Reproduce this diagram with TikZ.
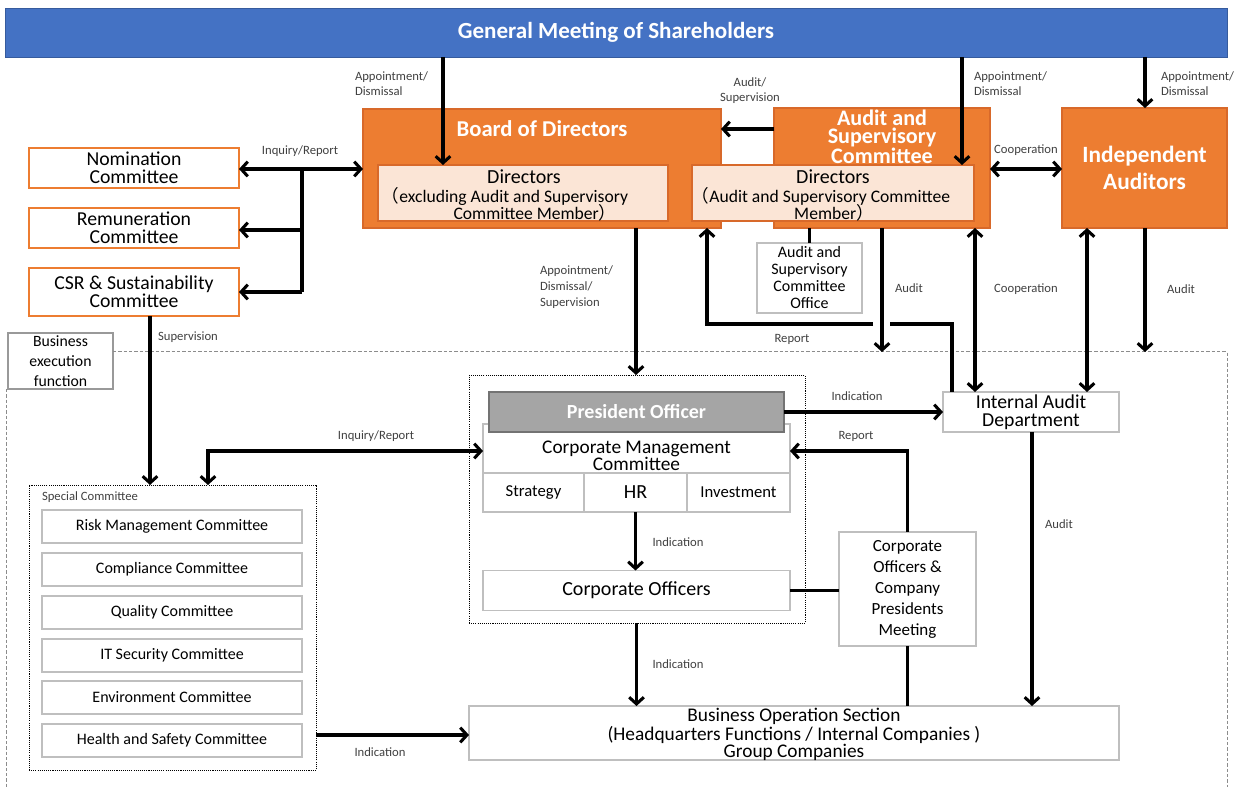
\documentclass[tikz,border=0pt]{standalone}
\usepackage{fontspec}
\setmainfont{Carlito}
\newfontfamily\cjk{Noto Sans CJK JP}
\usetikzlibrary{arrows.meta}
\definecolor{gmblue}{HTML}{4472C4}
\definecolor{orng}{HTML}{ED7D31}
\definecolor{orngdk}{HTML}{D8692A}
\definecolor{peach}{HTML}{FBE5D6}
\definecolor{gbord}{HTML}{BFBFBF}
\definecolor{pogray}{HTML}{A5A5A5}
\definecolor{lblgray}{HTML}{404040}
\newcommand\fs[2]{\fontsize{#1}{#2}\selectfont}
\tikzset{
  every node/.style={inner sep=0pt, outer sep=0pt},
  wh/.style 2 args={minimum width=#1*0.75pt, minimum height=#2*0.75pt},
  gbox/.style={draw=gbord, line width=1pt, fill=white, align=center},
  obox/.style={draw=orng, line width=1pt, fill=white, align=center, font=\fs{14.8}{13.4}},
  orbox/.style={fill=orng, draw=orngdk, line width=0.8pt},
  pbox/.style={fill=peach, draw=orngdk, line width=0.8pt, align=center},
  wtitle/.style={text=white, font=\bfseries\fs{17}{13}, align=center},
  conn/.style={line width=2.3pt, draw=black, line join=miter},
  arr/.style={conn, -{Straight Barb[length=5pt,width=11pt]}},
  darr/.style={conn, {Straight Barb[length=5pt,width=11pt]}-{Straight Barb[length=5pt,width=11pt]}},
  lbl/.style={text=lblgray, font=\fs{9.5}{11.25}, align=left},
  subt/.style={font=\fs{13.2}{13}},
  dotbox/.style={draw=black, line width=0.7pt, dash pattern=on 0.8pt off 0.8pt},
  frame/.style={draw=black!45, line width=0.75pt, dash pattern=on 2.5pt off 1.5pt}
}
\begin{document}
\begin{tikzpicture}[x=0.75pt,y=-0.75pt]
\useasboundingbox (0,0) rectangle (1243,787);
% general meeting
\node[fill=gmblue, draw=gmblue!80!black, line width=0.6pt, wh={1222}{49}, text=white, font=\bfseries\fs{17.3}{17}] (gm) at (616,32.5) {General Meeting of Shareholders};
% business execution frame
\node[draw=black!40, line width=0.8pt, fill=white, wh={105}{56}, align=center, font=\fs{11.8}{15}] (bef) at (60.5,361) {Business\\execution\\function};
\coordinate (exTop) at (113,352);
\coordinate (exRight) at (1227,352);
\coordinate (exBotR) at (1227,787);
\coordinate (exL) at (6,389);
\coordinate (exBotL) at (6,787);
\draw[frame] (exTop) -- (exRight) -- (exBotR);
\draw[frame] (exL) -- (exBotL);
% top orange boxes
\node[orbox, wh={358}{119}] (board) at (542,168.5) {};
\node[orbox, wh={216}{120}] (asc) at (882,168) {};
\node[orbox, wh={165}{120}, text=white, font=\bfseries\fs{17.5}{20}, align=center] (ind) at (1144.5,168) {Independent\\Auditors};
\node[wtitle] (boardt) at (542,129) {Board of Directors};
\node[wtitle, font=\bfseries\fs{16.6}{13.4}] (asct) at (882,137) {Audit and\\Supervisory\\Committee};
\node[pbox, wh={290}{56}] (dirx) at (523,193) {};
\node[pbox, wh={282}{56}] (dira) at (833,193) {};
\node[font=\fs{15}{15}] (dirxt) at (524,176.5) {Directors};
\node[subt] (dirxs1) at (505,196.5) {{\cjk （}excluding Audit and Supervisory};
\node[subt] (dirxs2) at (535,213) {Committee Member{\cjk ）}};
\node[font=\fs{15}{15}] (dirat) at (833,176.5) {Directors};
\node[subt] (diras1) at (821,196.5) {{\cjk （}Audit and Supervisory Committee};
\node[subt] (diras2) at (834,213) {Member{\cjk ）}};
% left committees
\node[obox, wh={210}{40}] (nom) at (134,168) {Nomination\\Committee};
\node[obox, wh={210}{40}] (rem) at (134,228) {Remuneration\\Committee};
\node[obox, wh={210}{48}] (csr) at (134,292) {CSR \& Sustainability\\Committee};
% audit office
\node[gbox, wh={105}{70}, font=\fs{12}{12.75}] (off) at (809.5,278) {Audit and\\Supervisory\\Committee\\Office};
% special committee
\node[dotbox, wh={287}{285}] (spc) at (172.5,627.5) {};
\node[lbl, anchor=west, font=\fs{9.5}{11}] (spct) at (42,497) {Special Committee};
\foreach \n/\y/\t in {rmc/526.5/Risk Management Committee, cpc/569.5/Compliance Committee, qlc/612.5/Quality Committee, itc/655.5/IT Security Committee, evc/697.5/Environment Committee, hsc/740.5/Health and Safety Committee}{
  \node[gbox, wh={260}{33}, font=\fs{12}{12}] (\n) at (172,\y) {\t};
}
% president area
\node[dotbox, wh={336}{248}] (presd) at (637,499) {};
\node[gbox, wh={307}{49}] (cmc) at (636.5,448.5) {};
\node[font=\fs{14.5}{12.75}, align=center] (cmct) at (636.5,455.5) {Corporate Management\\Committee};
\node[fill=pogray, draw=black!55, line width=0.8pt, wh={295}{40}, text=white, font=\bfseries\fs{15}{15}] (po) at (636.5,412) {President Officer};
\node[gbox, wh={101}{39}, font=\fs{12.5}{12.5}] (str) at (533.5,492.5) {Strategy};
\node[gbox, wh={103}{39}, font=\fs{15}{15}] (hr) at (635.5,492.5) {HR};
\node[gbox, wh={103}{39}, font=\fs{12.5}{12.5}] (inv) at (738.5,492.5) {Investment};
\node[gbox, wh={307}{40}, font=\fs{15}{15}] (cof) at (636.5,590.5) {Corporate Officers};
\node[gbox, wh={176}{40}, font=\fs{14.8}{13.4}] (iad) at (1031,412) {Internal Audit\\Department};
\node[gbox, wh={137}{114}, font=\fs{12.75}{15.75}] (meet) at (907.5,589) {Corporate\\Officers \&\\Company\\Presidents\\Meeting};
\node[gbox, wh={650}{54}] (bos) at (794,733) {};
\node[font=\fs{14.5}{12.75}, align=center] (bost) at (794,734.5) {Business Operation Section\\(Headquarters Functions / Internal Companies )\\Group Companies};
% connectors top
\draw[arr] (443,0 |- gm.south) -- (443,0 |- dirx.north);
\draw[arr] (962,0 |- gm.south) -- (962,0 |- dira.north);
\draw[arr] (1145,0 |- gm.south) -- (1145,0 |- ind.north);
\draw[arr] (asc.west |- 0,129) -- (board.east |- 0,129);
\draw[darr] (asc.east |- 0,169) -- (ind.west |- 0,169);
% committees
\draw[darr] (board.west |- 0,169) -- (nom.east |- 0,169);
\draw[conn] (302,169) -- (302,292);
\draw[arr] (302,230) -- (rem.east |- 0,230);
\draw[arr] (302,292) -- (csr.east |- 0,292);
\draw[arr] (csr.south -| 150,0) -- (spc.north -| 150,0);
% board to president
\draw[arr] (636,0 |- board.south) -- (636,0 |- presd.north);
% office line
\draw[conn] (off.north |- asc.south) -- (off.north);
% report from internal audit with gap
\coordinate (rp1) at (890,324);
\coordinate (rp2) at (873,324);
\draw[conn] (952,0 |- iad.north) -- (952,324) -- (rp1);
\draw[arr] (rp2) -- (707,324) -- (707,0 |- board.south);
\draw[arr] (882,0 |- asc.south) -- (882,0 |- exTop);
\draw[darr] (975,0 |- asc.south) -- (975,0 |- iad.north);
\draw[darr] (1087,0 |- ind.south) -- (1087,0 |- iad.north);
\draw[arr] (1145,0 |- ind.south) -- (1145,0 |- exTop);
% execution
\draw[arr] (po.east) -- (iad.west |- po.east);
\draw[darr] (cmc.west |- 0,451) -- (208,451) -- (208,0 |- spc.north);
\draw[arr] (meet.north) -- (meet.north |- 0,451) -- (cmc.east |- 0,451);
\draw[conn] (cof.east) -- (meet.west |- cof.east);
\draw[conn] (meet.south) -- (meet.south |- bos.north);
\draw[arr] (hr.south) -- (hr.south |- cof.north);
\draw[arr] (cof.south |- presd.south) -- (cof.south |- bos.north);
\draw[arr] (1032,0 |- iad.south) -- (1032,0 |- bos.north);
\draw[arr] (spc.east |- 0,735) -- (bos.west |- 0,735);
% labels
\node[lbl, anchor=west] (l1) at (355,83.5) {Appointment/\\Dismissal};
\node[lbl, anchor=west] (l2) at (974,83.5) {Appointment/\\Dismissal};
\node[lbl, anchor=west] (l3) at (1161,83.5) {Appointment/\\Dismissal};
\node[lbl, align=center] (l4) at (750,90.5) {Audit/\\Supervision};
\node[lbl] (l5) at (300,151) {Inquiry/Report};
\node[lbl] (l6) at (1026,150) {Cooperation};
\node[lbl] (l7) at (188,337) {Supervision};
\node[lbl, anchor=west, font=\fs{9.5}{12}] (l8) at (540,287) {Appointment/\\Dismissal/\\Supervision};
\node[lbl] (l9) at (909,288) {Audit};
\node[lbl] (l10) at (792,339) {Report};
\node[lbl] (l11) at (1026,289) {Cooperation};
\node[lbl] (l12) at (1181,289) {Audit};
\node[lbl] (l13) at (857,396) {Indication};
\node[lbl] (l14) at (376,436) {Inquiry/Report};
\node[lbl] (l15) at (856,436) {Report};
\node[lbl] (l16) at (678,542) {Indication};
\node[lbl] (l17) at (1059,524) {Audit};
\node[lbl] (l18) at (678,664) {Indication};
\node[lbl] (l19) at (380,752) {Indication};
\end{tikzpicture}
\end{document}
